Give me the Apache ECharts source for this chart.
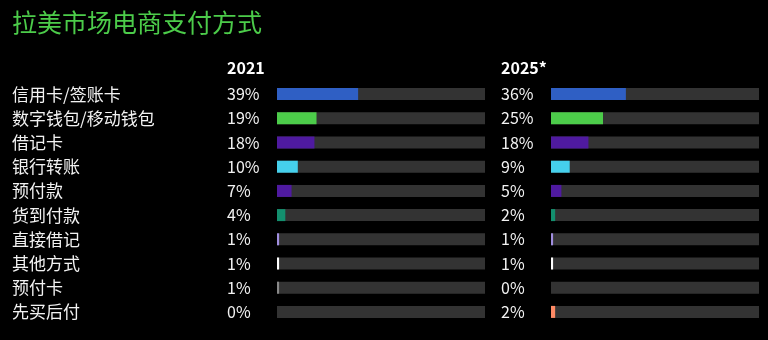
<!DOCTYPE html>
<html><head><meta charset="utf-8">
<script src="https://cdn.jsdelivr.net/npm/echarts@6/dist/echarts.min.js"></script>
<style>html,body{margin:0;padding:0;background:#000;}#c{width:768px;height:340px;}</style>
</head><body><div id="c"></div>
<script>
const titleText = '拉美市场电商支付方式';
const yearLabels = ['2021', '2025*'];
const categories = ['信用卡/签账卡','数字钱包/移动钱包','借记卡','银行转账','预付款','货到付款','直接借记','其他方式','预付卡','先买后付'];
const values2021 = [39, 19, 18, 10, 7, 4, 1, 1, 1, 0];
const values2025 = [36, 25, 18, 9, 5, 2, 1, 1, 0, 2];
const barColors = ['#2f5fc4','#4ccc4a','#4f1aa0','#45d0ec','#4f1aa0','#138f6e','#a08ee0','#ffffff','#888888','#ff8a65'];

const FONT = '"Noto Sans CJK SC", "Noto Sans", sans-serif';
const chart = echarts.init(document.getElementById('c'));

function mkData(vals){
  return vals.map((v,i)=>({value:v, itemStyle:{color:barColors[i]}}));
}
const gridTop = 82, gridH = 242;
chart.setOption({
  backgroundColor:'#000',
  animation:false,
  graphic:[
    {type:'text', left:12, top:10, style:{text:titleText, fill:'#4ccc4a', font:'25px ' + FONT}},
    {type:'text', left:227, top:60, style:{text:yearLabels[0], fill:'#fff', font:'bold 16px ' + FONT}},
    {type:'text', left:501, top:60, style:{text:yearLabels[1], fill:'#fff', font:'bold 16px ' + FONT}}
  ],
  grid:[
    {left:277, width:208, top:gridTop, height:gridH},
    {left:551, width:208, top:gridTop, height:gridH}
  ],
  xAxis:[
    {gridIndex:0, type:'value', min:0, max:100, show:false},
    {gridIndex:1, type:'value', min:0, max:100, show:false}
  ],
  yAxis:[
    {gridIndex:0, type:'category', data:categories, inverse:true,
     axisLine:{show:false}, axisTick:{show:false},
     axisLabel:{align:'left', margin:265, color:'#f2f2f2', fontFamily:FONT, fontSize:16,
       formatter:(v,i)=>'{a|'+v+'}{b|'+values2021[i]+'%}',
       rich:{a:{width:215, fontSize:17, color:'#f2f2f2', fontFamily:FONT}, b:{fontSize:16, color:'#f2f2f2', fontFamily:FONT}}}},
    {gridIndex:1, type:'category', data:categories, inverse:true,
     axisLine:{show:false}, axisTick:{show:false},
     axisLabel:{align:'left', margin:50, color:'#f2f2f2', fontFamily:FONT, fontSize:16,
       formatter:(v,i)=>values2025[i]+'%'}}
  ],
  series:[
    {type:'bar', xAxisIndex:0, yAxisIndex:0, data:mkData(values2021), barWidth:12,
     showBackground:true, backgroundStyle:{color:'#333333'}},
    {type:'bar', xAxisIndex:1, yAxisIndex:1, data:mkData(values2025), barWidth:12,
     showBackground:true, backgroundStyle:{color:'#333333'}}
  ]
});
</script></body></html>
